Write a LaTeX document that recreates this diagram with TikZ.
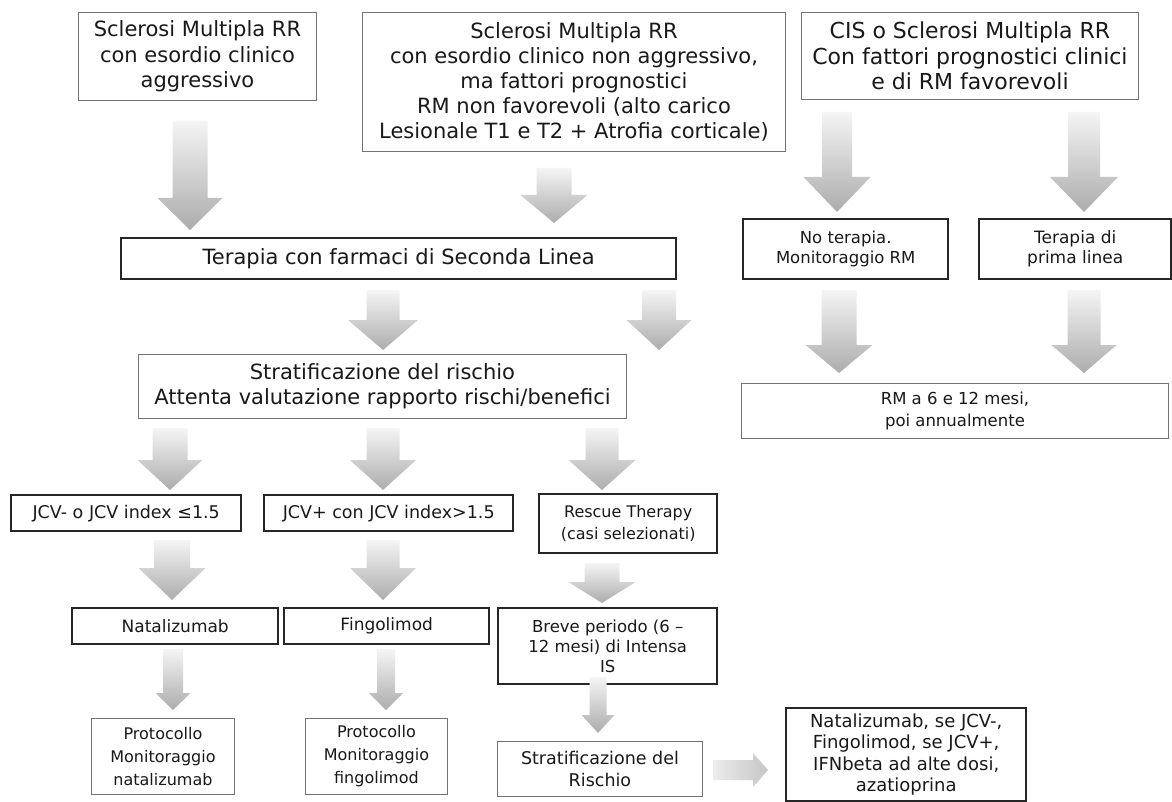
\documentclass[tikz,border=0pt]{standalone}
\usepackage{fontspec}
\setmainfont{DejaVu Sans}
\newcommand\dnarrow[6]{% cx, top, head base, tip, shaft half, head half
  \shade[top color=gray!8, bottom color=gray!65]
    (#1-#5,#2) -- (#1+#5,#2) -- (#1+#5,#3) -- (#1+#6,#3) -- (#1,#4)
    -- (#1-#6,#3) -- (#1-#5,#3) -- cycle;}
\begin{document}
\begin{tikzpicture}[x=1pt,y=-1pt,
  thinbox/.style={draw=black!55, line width=0.9pt, anchor=north west, align=center, inner sep=0pt, text=black!90},
  thickbox/.style={draw=black!85, line width=2.4pt, anchor=north west, align=center, inner sep=0pt, text=black!90},
  big/.style={font=\fontsize{21}{25.5}\selectfont},
  small/.style={font=\fontsize{16}{22}\selectfont}]
\useasboundingbox[fill=white] (0,0) rectangle (1172,802);

% boxes
\node[thinbox, big, minimum width=238pt, minimum height=88pt] (A) at (78,12)
  {Sclerosi Multipla RR\\con esordio clinico\\aggressivo};
\node[thinbox, big, font=\fontsize{21}{25}\selectfont, minimum width=423pt, minimum height=139pt] (B) at (362,12)
  {Sclerosi Multipla RR\\con esordio clinico non aggressivo,\\ma fattori prognostici\\RM non favorevoli (alto carico\\Lesionale T1 e T2 + Atrofia corticale)};
\node[thinbox, big, font=\fontsize{22}{25.5}\selectfont, minimum width=337pt, minimum height=87pt] (C) at (801,12)
  {CIS o Sclerosi Multipla RR\\Con fattori prognostici clinici\\e di RM favorevoli};
\node[thickbox, big, minimum width=555pt, minimum height=41pt] (D) at (120,237)
  {Terapia con farmaci di Seconda Linea};
\node[thinbox, big, minimum width=488pt, minimum height=64pt] (E) at (138,354)
  {Stratificazione del rischio\\Attenta valutazione rapporto rischi/benefici};
\node[thickbox, small, font=\fontsize{16.5}{20}\selectfont, minimum width=205pt, minimum height=60pt] (F) at (742,218)
  {No terapia.\\Monitoraggio RM};
\node[thickbox, small, font=\fontsize{17}{20}\selectfont, minimum width=192pt, minimum height=60pt] (G) at (978,218)
  {Terapia di\\prima linea};
\node[thinbox, small, font=\fontsize{16.5}{22}\selectfont, minimum width=427pt, minimum height=55pt] (H) at (741,383)
  {RM a 6 e 12 mesi,\\poi annualmente};
\node[thickbox, small, font=\fontsize{17.5}{22}\selectfont, minimum width=230pt, minimum height=36pt] (I) at (10,494)
  {JCV- o JCV index ≤1.5};
\node[thickbox, small, font=\fontsize{17.5}{22}\selectfont, minimum width=249pt, minimum height=36pt] (J) at (263,494)
  {JCV+ con JCV index>1.5};
\node[thickbox, small, minimum width=178pt, minimum height=59pt] (K) at (538,493)
  {Rescue Therapy\\(casi selezionati)};
\node[thickbox, small, font=\fontsize{17}{22}\selectfont, minimum width=206pt, minimum height=36pt] (L) at (71,607)
  {Natalizumab};
\node[thickbox, small, font=\fontsize{17}{22}\selectfont, minimum width=205pt, minimum height=36pt] (M) at (283,607)
  {Fingolimod};
\node[thickbox, small, font=\fontsize{16.5}{20}\selectfont, minimum width=219pt, minimum height=76pt] (N) at (497,607)
  {Breve periodo (6 –\\12 mesi) di Intensa\\IS};
\node[thinbox, small, font=\fontsize{16}{23}\selectfont, minimum width=143pt, minimum height=76pt] (P) at (91,718)
  {Protocollo\\Monitoraggio\\natalizumab};
\node[thinbox, small, font=\fontsize{16}{23}\selectfont, minimum width=142pt, minimum height=76pt] (Q) at (305,718)
  {Protocollo\\Monitoraggio\\fingolimod};
\node[thinbox, small, font=\fontsize{17.5}{22}\selectfont, minimum width=205pt, minimum height=55pt] (R) at (497,741)
  {Stratificazione del\\Rischio};
\node[thickbox, small, font=\fontsize{18}{21.5}\selectfont, minimum width=240pt, minimum height=93pt] (S) at (785,707)
  {Natalizumab, se JCV-,\\Fingolimod, se JCV+,\\IFNbeta ad alte dosi,\\azatioprina};

% block arrows
\dnarrow{190}{121}{198}{230}{17.5}{32.5}
\dnarrow{554}{168}{195}{223}{17.5}{33.5}
\dnarrow{383}{290}{320}{350}{16.5}{35}
\dnarrow{659}{290}{320}{350}{17}{32.5}
\dnarrow{837}{112}{177}{212}{15}{33.5}
\dnarrow{1084}{112}{177}{212}{16}{34}
\dnarrow{839}{290}{345}{373}{17.5}{33.5}
\dnarrow{1084}{290}{345}{373}{16.5}{32.5}
\dnarrow{170}{428}{460}{490}{17.5}{32.5}
\dnarrow{383}{428}{460}{490}{16.5}{33}
\dnarrow{602}{428}{460}{490}{16.5}{33.5}
\dnarrow{172}{540}{568}{600}{18}{33.5}
\dnarrow{383}{540}{568}{600}{16.5}{33}
\dnarrow{602}{563}{582}{603}{17.5}{33.5}
\dnarrow{173}{649}{693}{710}{10}{17.5}
\dnarrow{386}{649}{693}{710}{9}{17}
\dnarrow{598}{677}{715}{733}{8.5}{16.5}
\shade[left color=gray!15, right color=gray!45]
  (713,760) -- (753,760) -- (753,753) -- (768,770) -- (753,787) -- (753,780) -- (713,780) -- cycle;
\end{tikzpicture}
\end{document}
